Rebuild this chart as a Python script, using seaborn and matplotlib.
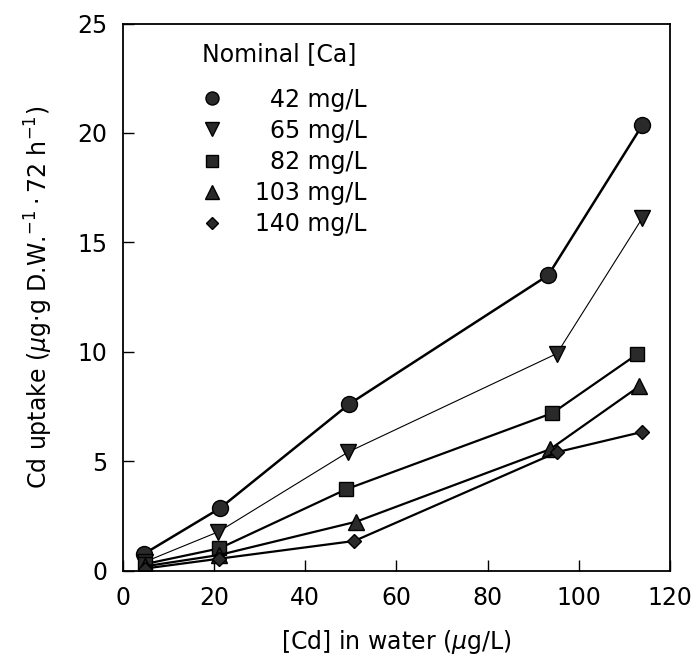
import matplotlib
matplotlib.use("Agg")
import matplotlib.pyplot as plt
import seaborn as sns
import pandas as pd
from matplotlib.lines import Line2D

# ---- data ----
series_labels = ["  42 mg/L", "  65 mg/L", "  82 mg/L", "103 mg/L", "140 mg/L"]
x_42 = [4.6, 21.3, 49.7, 93.3, 113.9]
y_42 = [0.76, 2.85, 7.62, 13.5, 20.35]
x_65 = [4.8, 21.0, 49.5, 95.2, 113.9]
y_65 = [0.40, 1.78, 5.43, 9.92, 16.1]
x_82 = [4.8, 21.2, 49.0, 94.2, 112.8]
y_82 = [0.30, 1.02, 3.72, 7.20, 9.89]
x_103 = [4.9, 21.2, 51.2, 93.7, 113.3]
y_103 = [0.20, 0.72, 2.24, 5.55, 8.43]
x_140 = [4.9, 21.2, 50.8, 95.3, 113.9]
y_140 = [0.10, 0.55, 1.36, 5.42, 6.34]

xs = [x_42, x_65, x_82, x_103, x_140]
ys = [y_42, y_65, y_82, y_103, y_140]

rows = []
for lab, xx, yy in zip(series_labels, xs, ys):
    for a, b in zip(xx, yy):
        rows.append({"series": lab, "cd": a, "uptake": b})
df = pd.DataFrame(rows)

markers = ["o", "v", "s", "^", "D"]
msizes = [11.5, 11.5, 9.5, 11, 7.5]
leg_msizes = [9.4, 9.4, 8.0, 9.4, 6.6]
lwidths = [1.8, 0.8, 1.6, 1.6, 1.6]

sns.set_theme(style="white")
plt.rcParams["font.family"] = ["DejaVu Sans"]
plt.rcParams["mathtext.fontset"] = "dejavusans"

FS = 17
fig = plt.figure(figsize=(6.98, 6.61), dpi=100)
ax = fig.add_axes([0.1758, 0.1366, 0.7841, 0.8278])

for lab, m, ms, lw in zip(series_labels, markers, msizes, lwidths):
    sub = df[df["series"] == lab]
    sns.lineplot(data=sub, x="cd", y="uptake", ax=ax, color="black",
                 linewidth=lw, marker=m, markersize=ms,
                 markerfacecolor="#2a2a2a", markeredgecolor="black",
                 markeredgewidth=1.0, sort=False, legend=False, estimator=None)

ax.set_xlim(0, 120)
ax.set_ylim(0, 25)
ax.set_xticks([0, 20, 40, 60, 80, 100, 120])
ax.set_yticks([0, 5, 10, 15, 20, 25])
ax.tick_params(axis="both", direction="in", length=8, width=1.0, labelsize=FS,
               color="black", labelcolor="black", pad=11)
ax.tick_params(top=False, right=False, left=True, bottom=True)
for s in ax.spines.values():
    s.set_color("black")
    s.set_linewidth(1.3)

ax.set_xlabel(r"[Cd] in water ($\mu$g/L)", fontsize=FS, labelpad=13, color="black")
ax.set_ylabel(r"Cd uptake ($\mu$g$\cdot$g D.W.$^{-1}\cdot$72 h$^{-1}$)", fontsize=FS,
              labelpad=16, color="black")

handles = [Line2D([], [], linestyle="none", marker=m, markersize=ms,
                  markerfacecolor="#2a2a2a", markeredgecolor="black")
           for m, ms in zip(markers, leg_msizes)]
leg = ax.legend(handles, series_labels, title="Nominal [Ca]", loc="upper left",
                bbox_to_anchor=(0.144, 0.966), frameon=False, fontsize=FS,
                title_fontsize=FS, handletextpad=1.4, labelspacing=0.30,
                handlelength=0.85, borderaxespad=0, borderpad=0)
leg._legend_box.align = "left"
leg._legend_box.sep = 15.5
for t in leg.get_texts():
    t.set_color("black")
leg.get_title().set_color("black")

fig.savefig("out.png", dpi=100, facecolor="white")
